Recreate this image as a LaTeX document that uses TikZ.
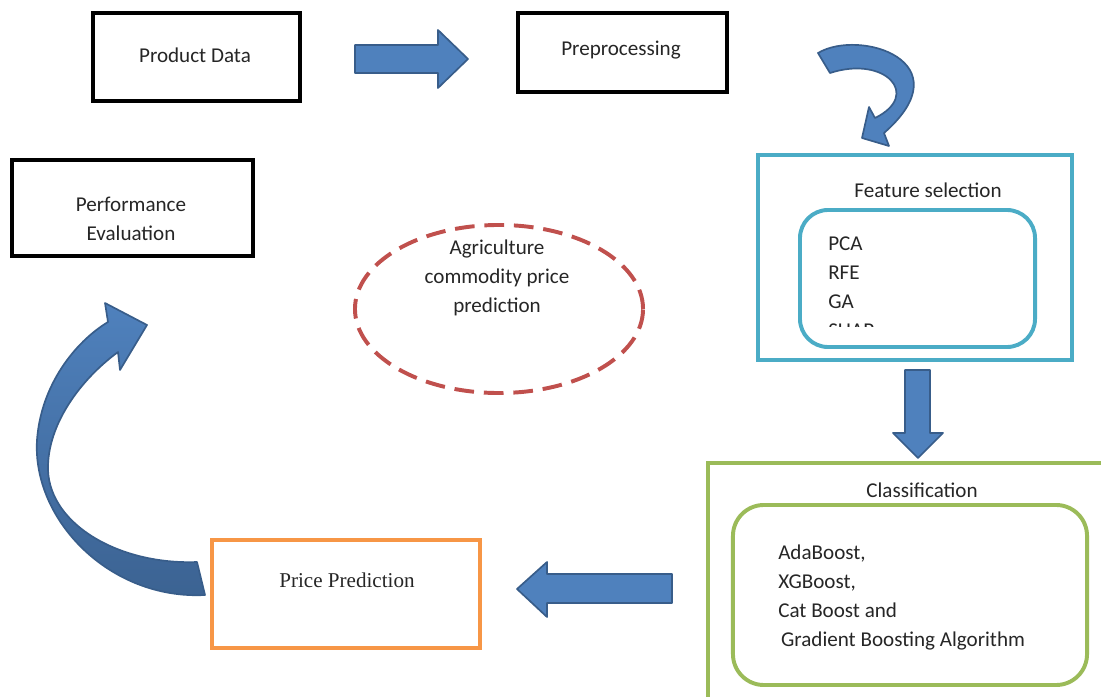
\documentclass[tikz,border=0pt]{standalone}
\usepackage{fontspec}
\setmainfont{Carlito}
\newfontfamily\serifface{Liberation Serif}
\usetikzlibrary{shapes.geometric, positioning}
\definecolor{AGBlue}{HTML}{4F81BD}
\definecolor{AGBlueDark}{HTML}{385D8A}
\definecolor{AGTeal}{HTML}{4BACC6}
\definecolor{AGGreen}{HTML}{9BBB59}
\definecolor{AGOrange}{HTML}{F79646}
\definecolor{AGRed}{HTML}{C0504D}
\definecolor{AGText}{HTML}{262626}

\begin{document}
\begin{tikzpicture}[x=0.025cm, y=-0.025cm,
    every node/.style={font=\fontsize{15}{20.6}\selectfont, text=AGText},
    pbx/.style={rectangle, draw=black, line width=2.2pt, inner sep=0pt},
    cbx/.style={rectangle, line width=2.8pt, inner sep=0pt},
    lst/.style={anchor=base west, align=left, inner sep=0pt},
    blk/.style={fill=AGBlue, draw=AGBlueDark, line width=1.2pt, line join=round}
  ]
  \useasboundingbox (0,0) rectangle (1101,697);
  \clip (0,0) rectangle (1101,697);

  % plain boxes
  \node[pbx, minimum width=5.175cm, minimum height=2.2cm] (prod) at (196.5,57) {};
  \node (prodt) at (195,55) {Product Data};
  \node[pbx, minimum width=5.225cm, minimum height=1.975cm] (prep) at (622.5,52.5) {};
  \node (prept) at (621,50) {Preprocessing};
  \node[pbx, minimum width=6.025cm, minimum height=2.4cm] (perf) at (132.5,208) {};
  \node[align=center] (perft) at (131,219) {Performance\\Evaluation};
  \node[cbx, draw=AGOrange, line width=2.5pt, minimum width=6.7cm, minimum height=2.7cm]
        (price) at (346,594) {};
  \node (pricet) at (347,580) {\serifface Price Prediction};

  % centre ellipse
  \node[ellipse, draw=AGRed, line width=2.8pt, dash pattern=on 14pt off 7pt,
        minimum width=7.2cm, minimum height=4.2cm, inner sep=0pt] (agri) at (499,309) {};
  \node[align=center] (agrit) at (497,278) {Agriculture\\commodity price\\prediction};

  % feature selection
  \node[cbx, draw=AGTeal, minimum width=7.85cm, minimum height=5.125cm] (fsel) at (915,257.5) {};
  \node (fselt) at (928,190) {Feature selection};
  \node[cbx, draw=AGTeal, rounded corners=20pt, minimum width=5.875cm, minimum height=3.425cm]
        (fsin) at (917.5,278.5) {};
  \begin{scope}
    \clip (800,210) rectangle (1035,326);
    \node[lst] (fslist) at (828,337) {PCA\\RFE\\GA\\SHAP};
  \end{scope}

  % classification
  \node[cbx, draw=AGGreen, minimum width=10.05cm, minimum height=6.05cm] (cls) at (909,584) {};
  \node (clst) at (922,490) {Classification};
  \node[cbx, draw=AGGreen, rounded corners=22pt, minimum width=8.85cm, minimum height=4.5cm]
        (clsin) at (910,595) {};
  \node[lst] (clslist) at (778,646)
        {AdaBoost,\\XGBoost,\\Cat Boost and\\\hspace*{2pt}Gradient Boosting Algorithm};

  % block arrows
  \draw[blk] (355,45) -- (438,45) -- (438,30) -- (468,59) -- (438,88) -- (438,73) -- (355,73) -- cycle;
  \draw[blk] (905,370) -- (930,370) -- (930,433) -- (943,433) -- (918,458) -- (893,433) -- (905,433) -- cycle;
  \draw[blk] (672,574) -- (547,574) -- (547,562) -- (517,589) -- (547,617) -- (547,603) -- (672,603) -- cycle;

  \draw[blk] (818,53) .. controls (860,28) and (965,62) .. (884,133) -- (889,146) -- (862,138)
        -- (869,107) -- (875,118) .. controls (922,95) and (885,55) .. (830,73) -- cycle;
  \draw[blk, top color=AGBlue, bottom color=AGBlueDark!85!AGBlue]
        (205,595) .. controls (110,600) and (32,520) .. (37,440)
        .. controls (41,385) and (75,342) .. (108,322) -- (105,303) -- (147,325) -- (120,370)
        -- (118,352) .. controls (80,380) and (47,425) .. (48,470)
        .. controls (50,525) and (120,565) .. (197,562) -- cycle;
\end{tikzpicture}
\end{document}
